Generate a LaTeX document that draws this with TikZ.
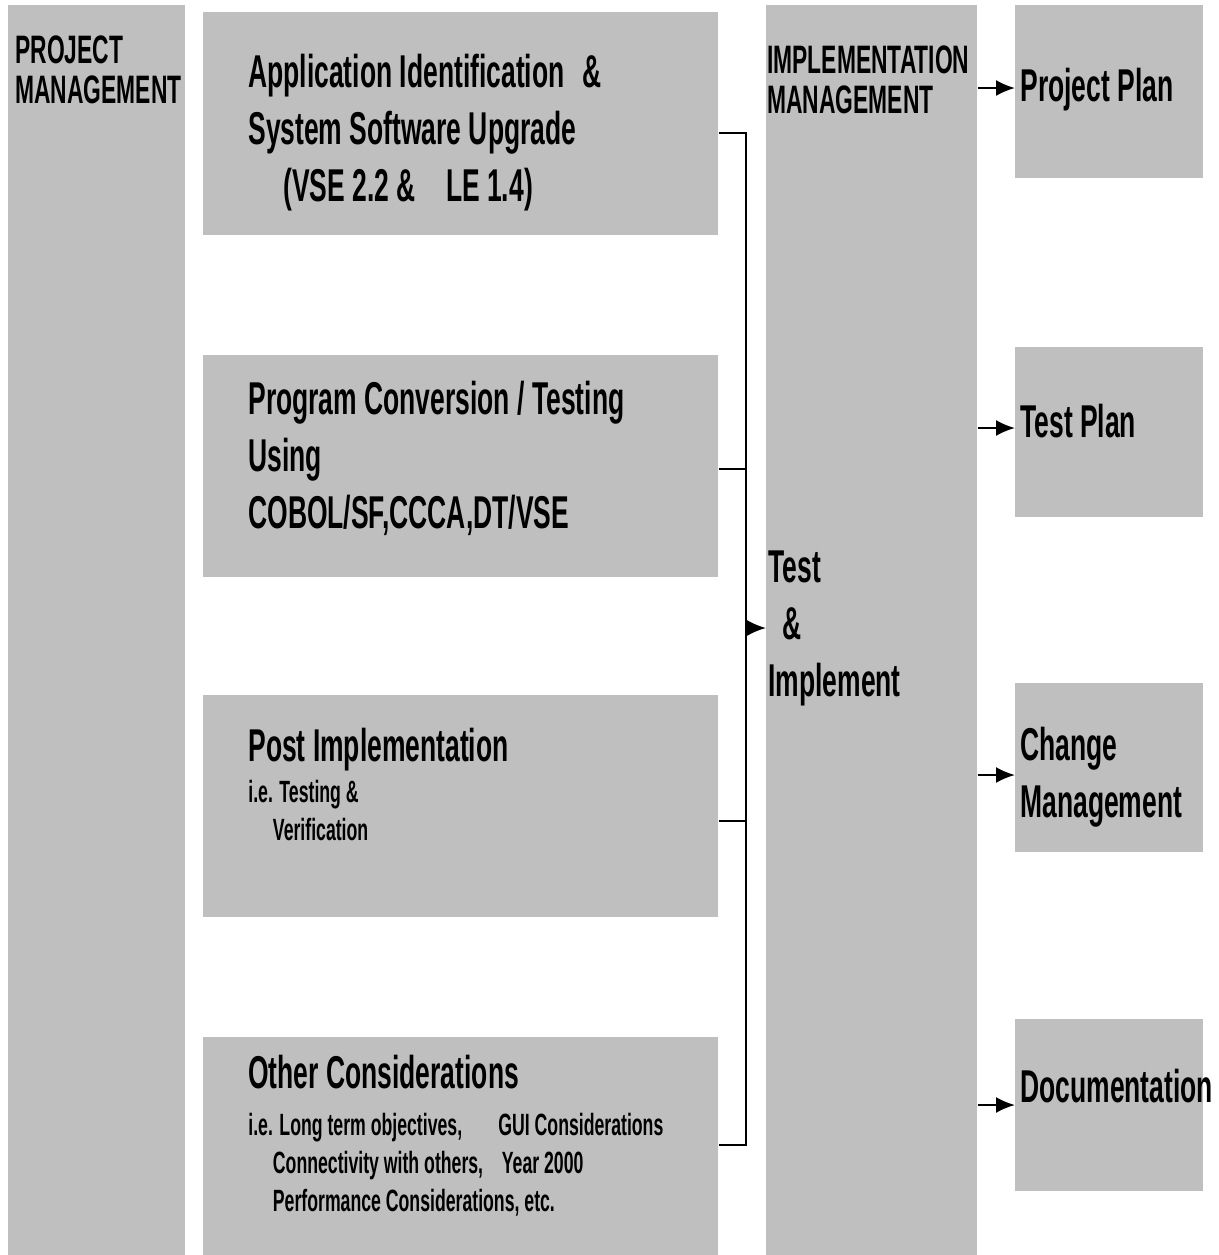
\documentclass[tikz,border=0pt]{standalone}
\usepackage{fontspec}
\setmainfont{Liberation Sans}[FakeStretch=0.575]
\usetikzlibrary{positioning}
\usetikzlibrary{arrows.meta}

\begin{document}
\begin{tikzpicture}[
          x=0.02cm, y=-0.02cm,
          greybox/.style={fill=black!25, inner sep=0, anchor=north west},
          txt/.style={inner sep=0, anchor=base west, align=left},
          bigtxt/.style={txt, font=\bfseries\fontsize{26.2}{32.4}\selectfont},
          captxt/.style={txt, font=\bfseries\fontsize{22.6}{22.5}\selectfont},
          smalltxt/.style={txt, font=\bfseries\fontsize{17.5}{21.6}\selectfont},
          link/.style={line width=1.2pt},
          arr/.style={line width=1.2pt, -{Latex[length=0.38cm, width=0.32cm]}}
      ]
        \useasboundingbox (0,0) rectangle (1219,1255);
        % the two tall columns
        \node[greybox, minimum width=3.54cm, minimum height=25cm] (pm) at (8,5) {};
        \node[greybox, minimum width=4.22cm, minimum height=25cm] (impl) at (766,5) {};
        % the four work packages
        \node[greybox, minimum width=10.3cm, minimum height=4.46cm] (app)  at (203,12) {};
        \node[greybox, minimum width=10.3cm, minimum height=4.44cm] (conv) at (203,355) {};
        \node[greybox, minimum width=10.3cm, minimum height=4.44cm] (post) at (203,695) {};
        \node[greybox, minimum width=10.3cm, minimum height=4.36cm] (oth)  at (203,1037) {};
        % the four results
        \node[greybox, minimum width=3.76cm, minimum height=3.46cm] (pp)  at (1015,5) {};
        \node[greybox, minimum width=3.76cm, minimum height=3.40cm] (tp)  at (1015,347) {};
        \node[greybox, minimum width=3.76cm, minimum height=3.38cm] (chg) at (1015,683) {};
        \node[greybox, minimum width=3.76cm, minimum height=3.44cm] (doc) at (1015,1019) {};

        % labels (placed at the baseline of their last line)
        \node[captxt] (pmlabel) at (15,103) {PROJECT\\MANAGEMENT};
        \node[captxt] (impllabel) at (767,113) {IMPLEMENTATION\\MANAGEMENT};
        \node[bigtxt] (applabel) at (248,201)
          {Application Identification\hspace{6pt} \&\\System Software Upgrade\\
           \hspace*{20pt}(VSE 2.2 \&\hspace{13pt} LE 1.4)};
        \node[bigtxt] (convlabel) at (248,528)
          {Program Conversion / Testing\\Using\\COBOL/SF,CCCA,DT/VSE};
        \node[bigtxt] (postlabel) at (248,761) {Post Implementation};
        \node[smalltxt] (postnote) at (248,840) {i.e. Testing \&\\\hspace*{14pt}Verification};
        \node[bigtxt] (othlabel) at (248,1088) {Other Considerations};
        \node[smalltxt] (othnote) at (248,1211)
          {i.e. Long term objectives,\\\hspace*{14pt}Connectivity with others,\\
           \hspace*{14pt}Performance Considerations, etc.};
        \node[smalltxt] (othgui) at (498,1173) {GUI Considerations\\\hspace*{2pt}Year 2000};
        \node[bigtxt] (testlabel) at (768,696) {Test\\\hspace*{8pt}\&\\Implement};
        \node[bigtxt] (pplabel)  at (1020,101) {Project Plan};
        \node[bigtxt] (tplabel)  at (1020,437) {Test Plan};
        \node[bigtxt] (chglabel) at (1020,817) {Change\\Management};
        \node[bigtxt] (doclabel) at (1020,1102) {Documentation};

        % collecting bracket
        \coordinate (j1) at (746,133);
        \coordinate (j2) at (746,469);
        \coordinate (j3) at (746,821);
        \coordinate (j4) at (746,1145);
        \coordinate (jt) at (746,628);
        \draw[link] (app.east |- j1) -- (j1) -- (j4) -- (oth.east |- j4);
        \draw[link] (conv.east |- j2) -- (j2);
        \draw[link] (post.east |- j3) -- (j3);
        \draw[arr] (jt) -- (impl.west |- jt);

        % arrows to the results
        \foreach \n/\y in {pp/88, tp/428, chg/775, doc/1105} {
          \coordinate (r) at (0,\y);
          \draw[arr] (impl.east |- r) -- (\n.west |- r);
        }
      \end{tikzpicture}
\end{document}
